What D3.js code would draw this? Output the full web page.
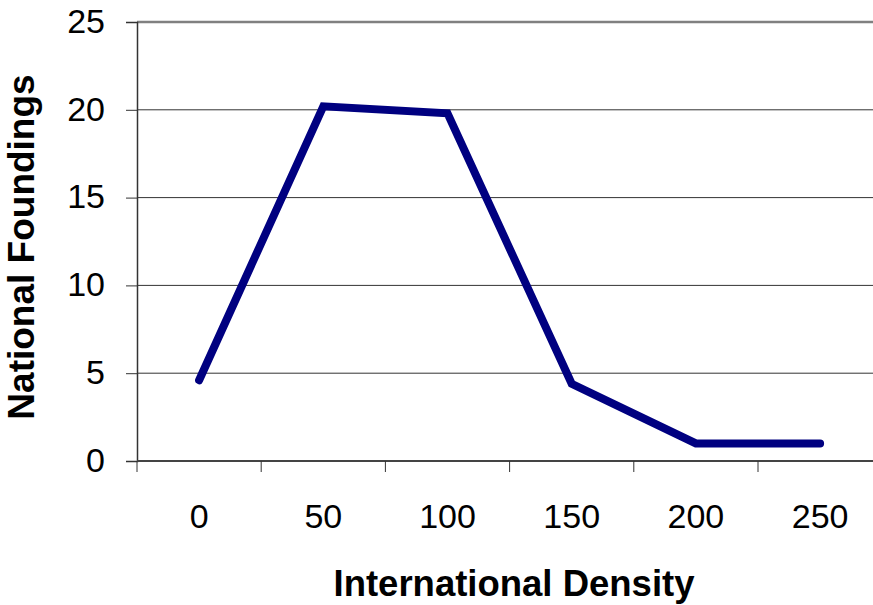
<!DOCTYPE html>
<html><head><meta charset="utf-8">
<script src="https://cdn.jsdelivr.net/npm/d3@7"></script>
<style>body{margin:0;background:#fff}svg{display:block}</style>
</head><body>
<svg id="c" width="873" height="605"></svg>
<script>
const categories = ["0","50","100","150","200","250"];
const values = [4.6, 20.2, 19.8, 4.4, 1.0, 1.0];
const yTicks = [0,5,10,15,20,25];

(function(){
const svg = d3.select("#c");
const mLeft = 137, mTop = 22, mBottom = 461, band = 124.2;
const x = d3.scaleBand().domain(categories).range([mLeft, mLeft + band*categories.length]).padding(0);
const y = d3.scaleLinear().domain([0,25]).range([mBottom, mTop]);
const font = "Arial, 'Liberation Sans', sans-serif";

// gridlines
svg.append("g").selectAll("line").data(yTicks.filter(d=>d>0)).join("line")
  .attr("x1", mLeft).attr("x2", 873).attr("y1", d=>y(d)).attr("y2", d=>y(d))
  .attr("stroke", d=> d===25 ? "#808080" : "#333").attr("stroke-width", d=> d===25 ? 2.5 : 1);

// y axis
const ya = svg.append("g").attr("transform", `translate(${mLeft},0)`)
  .call(d3.axisLeft(y).tickValues(yTicks).tickSize(11).tickPadding(21));
ya.select(".domain").attr("stroke","#333").attr("stroke-width",1.5);
ya.selectAll(".tick line").attr("stroke","#333").attr("stroke-width",1);
ya.selectAll("text").attr("font-family",font).attr("font-size",34).attr("fill","#000").attr("dy","0.3em");

// x axis
const xa = svg.append("g").attr("transform", `translate(0,${mBottom})`)
  .call(d3.axisBottom(x).tickSize(0).tickPadding(0));
xa.select(".domain").remove();
xa.selectAll("text").attr("font-family",font).attr("font-size",34).attr("fill","#000").attr("y",67).attr("dy",0);
svg.append("line").attr("x1",mLeft).attr("x2",873).attr("y1",mBottom).attr("y2",mBottom).attr("stroke","#444").attr("stroke-width",2);
svg.append("g").selectAll("line").data(categories).join("line")
  .attr("x1", d=>x(d)).attr("x2", d=>x(d)).attr("y1", mBottom).attr("y2", mBottom+11)
  .attr("stroke","#333").attr("stroke-width",1);

// line
const line = d3.line().x((d,i)=>x(categories[i]) + x.bandwidth()/2).y(d=>y(d));
svg.append("path").datum(values).attr("d", line).attr("fill","none")
  .attr("stroke","#000080").attr("stroke-width",8).attr("stroke-linejoin","miter").attr("stroke-linecap","round");

// titles
svg.append("text").attr("x", 514).attr("y", 596).attr("text-anchor","middle")
  .attr("font-family",font).attr("font-weight","bold").attr("font-size",36.5)
  .text("International Density");
svg.append("text").attr("transform","translate(34,247) rotate(-90)").attr("text-anchor","middle")
  .attr("font-family",font).attr("font-weight","bold").attr("font-size",37)
  .text("National Foundings");
})();
</script>
</body></html>
